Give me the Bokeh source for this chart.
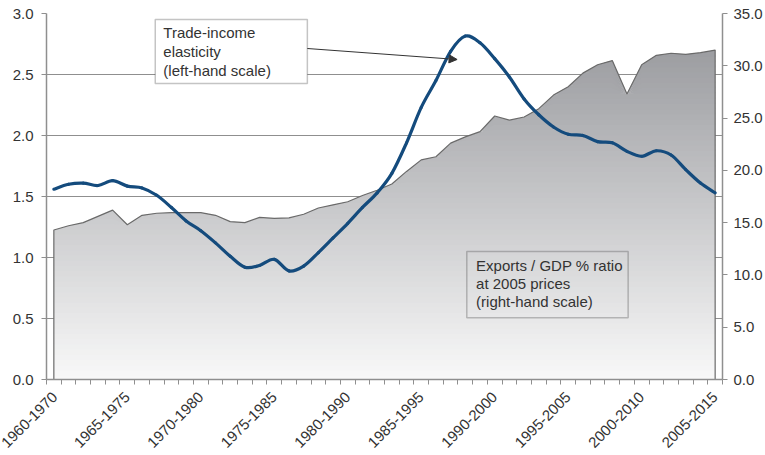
import numpy as np
from bokeh.plotting import figure
from bokeh.models import (Range1d, LinearAxis, FixedTicker, NumeralTickFormatter,
                          Label, BoxAnnotation, Arrow, NormalHead)
from bokeh.embed import file_html
from bokeh.resources import INLINE

# ---- data (46 rolling ten-year windows, 1960-1970 ... 2005-2015) ----
period_labels = ["1960-1970", "1965-1975", "1970-1980", "1975-1985", "1980-1990",
                 "1985-1995", "1990-2000", "1995-2005", "2000-2010", "2005-2015"]
label_every = 5

elasticity = [1.56, 1.60, 1.61, 1.59, 1.63, 1.585, 1.57, 1.51, 1.41, 1.30,
              1.22, 1.12, 1.01, 0.92, 0.935, 0.985, 0.89, 0.93, 1.04, 1.16,
              1.28, 1.41, 1.53, 1.69, 1.94, 2.23, 2.45, 2.69, 2.815, 2.76,
              2.63, 2.48, 2.30, 2.17, 2.07, 2.01, 2.00, 1.95, 1.94, 1.87,
              1.83, 1.875, 1.84, 1.72, 1.61, 1.53]

exports_gdp = [14.3, 14.7, 15.0, 15.6, 16.2, 14.8, 15.7, 15.9, 15.95, 15.95,
               15.95, 15.7, 15.1, 15.0, 15.5, 15.4, 15.45, 15.8, 16.4, 16.7,
               17.0, 17.6, 18.1, 18.7, 19.9, 21.0, 21.3, 22.6, 23.2, 23.7,
               25.2, 24.8, 25.1, 25.9, 27.2, 28.0, 29.3, 30.1, 30.5, 27.3,
               30.1, 31.0, 31.2, 31.1, 31.25, 31.5]

left_ticks = [0.0, 0.5, 1.0, 1.5, 2.0, 2.5, 3.0]
right_ticks = [0, 5, 10, 15, 20, 25, 30, 35]

# ---- styling ----
FONT = "Liberation Sans"
TXT = "#333333"
GRID = "#8f8f8f"
LINE_COLOR = "#144b7d"

n = len(elasticity)
x = np.arange(n, dtype=float)
area = np.array(exports_gdp, dtype=float)
el = np.array(elasticity, dtype=float)

p = figure(width=765, height=455, output_backend="svg", toolbar_location=None,
           x_range=Range1d(-0.5, n - 0.5), y_range=Range1d(left_ticks[0], left_ticks[-1]),
           min_border_left=46, min_border_right=42, min_border_top=13, min_border_bottom=76)
p.outline_line_color = None
p.background_fill_color = "white"
p.border_fill_color = "white"
p.extra_y_ranges = {"right": Range1d(right_ticks[0], right_ticks[-1])}

# gradient-filled area (right-hand scale), drawn as stacked horizontal bands
top_rgb = np.array([155, 156, 160])
bot_rgb = np.array([249, 249, 249])
step = 0.5
vmax = 32.0
levels = np.arange(0, np.ceil(area.max() / step) * step + step, step)
for lo in levels[:-1]:
    hi = lo + step
    t = min((lo + step / 2) / vmax, 1.0)
    c = bot_rgb + (top_rgb - bot_rgb) * t
    col = "#%02x%02x%02x" % tuple(int(round(v)) for v in c)
    y1 = np.minimum(area, max(lo - 0.15, 0))
    y2 = np.minimum(area, hi)
    p.varea(x=x, y1=y1, y2=y2, fill_color=col, y_range_name="right")

# outline of the area
ox = np.concatenate([[x[0]], x, [x[-1]]])
oy = np.concatenate([[0], area, [0]])
p.line(ox, oy, line_color="#6a6a6a", line_width=1.2, y_range_name="right")

# elasticity: smoothed line through the data points (Catmull-Rom as cubic Bezier segments)
xp = np.concatenate([[x[0]], x, [x[-1]]])
yp = np.concatenate([[el[0]], el, [el[-1]]])
x0, y0 = xp[1:-2], yp[1:-2]
x1, y1 = xp[2:-1], yp[2:-1]
cx0 = x0 + (xp[2:-1] - xp[0:-3]) / 6.0
cy0 = y0 + (yp[2:-1] - yp[0:-3]) / 6.0
cx1 = x1 - (xp[3:] - xp[1:-2]) / 6.0
cy1 = y1 - (yp[3:] - yp[1:-2]) / 6.0
p.bezier(x0=x0, y0=y0, x1=x1, y1=y1, cx0=cx0, cy0=cy0, cx1=cx1, cy1=cy1,
         line_color=LINE_COLOR, line_width=3.2, line_cap="round")

# ---- axes ----
p.yaxis.ticker = FixedTicker(ticks=left_ticks)
p.yaxis.formatter = NumeralTickFormatter(format="0.0")
p.ygrid.ticker = FixedTicker(ticks=left_ticks)
p.ygrid.grid_line_color = GRID
p.ygrid.grid_line_width = 1.2
p.xgrid.grid_line_color = None

ax = p.yaxis[0]
ax.axis_line_color = GRID
ax.axis_line_width = 1.5
ax.major_tick_line_color = GRID
ax.major_tick_out = 5
ax.major_tick_in = 0
ax.minor_tick_line_color = None
ax.major_label_text_font = FONT
ax.major_label_text_font_size = "15px"
ax.major_label_text_color = TXT
ax.major_label_standoff = 8

right_axis = LinearAxis(y_range_name="right", ticker=FixedTicker(ticks=right_ticks),
                        formatter=NumeralTickFormatter(format="0.0"))
right_axis.axis_line_color = GRID
right_axis.axis_line_width = 1.5
right_axis.major_tick_line_color = GRID
right_axis.major_tick_out = 5
right_axis.major_tick_in = 0
right_axis.minor_tick_line_color = None
right_axis.major_label_text_font = FONT
right_axis.major_label_text_font_size = "15px"
right_axis.major_label_text_color = TXT
right_axis.major_label_standoff = 6
p.add_layout(right_axis, "right")

label_pos = list(range(0, n, label_every))
xa = p.xaxis[0]
xa.ticker = FixedTicker(ticks=label_pos, minor_ticks=list(np.arange(-0.5, n, 1.0)))
xa.major_label_overrides = {i: lab for i, lab in zip(label_pos, period_labels)}
xa.major_label_orientation = np.pi / 4
xa.major_label_text_font = FONT
xa.major_label_text_font_size = "15px"
xa.major_label_text_color = TXT
xa.major_label_standoff = 10
xa.axis_line_color = GRID
xa.axis_line_width = 1.5
xa.major_tick_in = 0
xa.major_tick_out = 0
xa.major_tick_line_color = None
xa.minor_tick_line_color = GRID
xa.minor_tick_in = 0
xa.minor_tick_out = 5

# ---- annotations ----
box1 = BoxAnnotation(left=6.9, right=17.25, top=2.95, bottom=2.426,
                     fill_color="white", fill_alpha=1.0, line_color="#3a3a3a", line_width=1.5)
p.add_layout(box1)
for txt, yy in zip(["Trade-income", "elasticity", "(left-hand scale)"], [2.844, 2.691, 2.533]):
    p.add_layout(Label(x=7.45, y=yy, text=txt, text_font=FONT, text_font_size="15px",
                       text_color=TXT, text_baseline="middle", text_align="left"))

p.add_layout(Arrow(end=NormalHead(size=8, fill_color="#333333", line_color="#333333", line_width=1),
                   x_start=17.25, y_start=2.713, x_end=27.44, y_end=2.623,
                   line_color="#333333", line_width=1))

box2 = BoxAnnotation(left=28.1, right=39.08, top=1.049, bottom=0.506,
                     fill_alpha=0.0, line_color="#3a3a3a", line_width=1.5)
p.add_layout(box2)
for txt, yy in zip(["Exports / GDP % ratio", "at 2005 prices", "(right-hand scale)"],
                   [0.934, 0.784, 0.642]):
    p.add_layout(Label(x=28.73, y=yy, text=txt, text_font=FONT, text_font_size="15px",
                       text_color=TXT, text_baseline="middle", text_align="left"))

open("out.html", "w").write(file_html(p, INLINE))
